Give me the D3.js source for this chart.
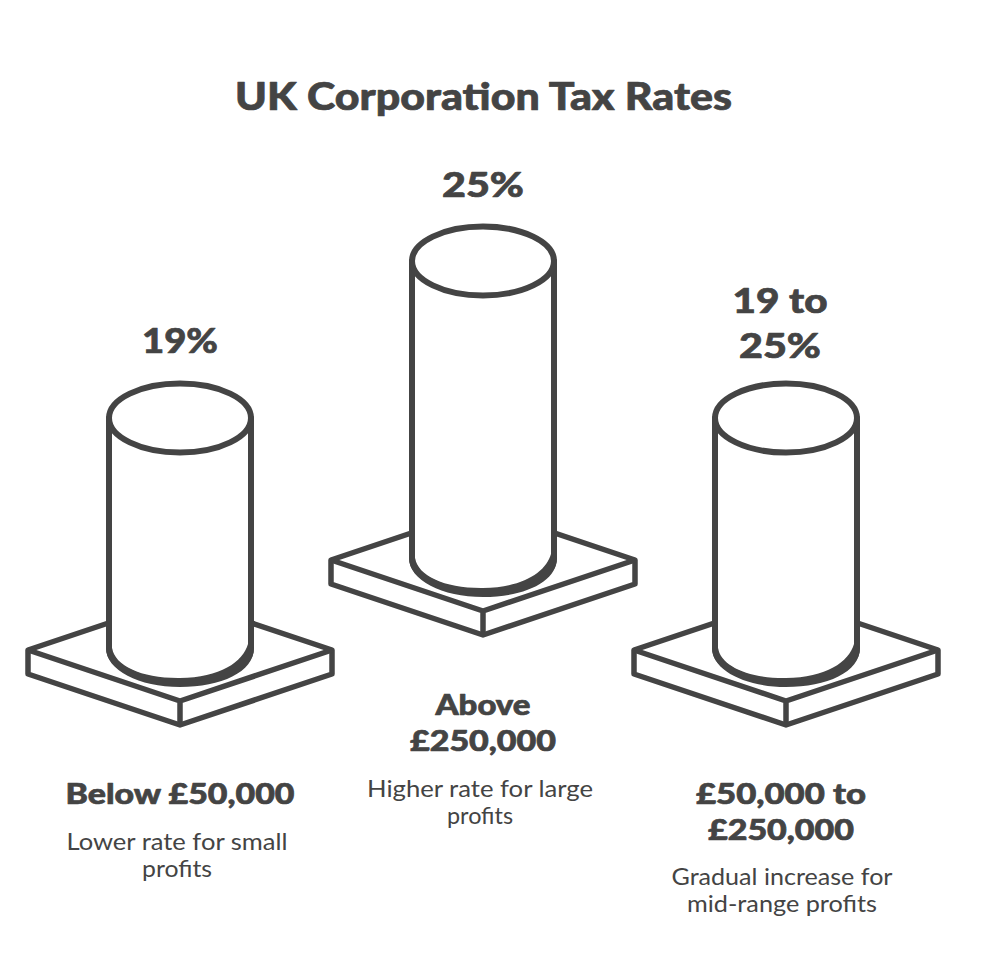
<!DOCTYPE html>
<html><head><meta charset="utf-8">
<script src="https://cdn.jsdelivr.net/npm/d3@7"></script>
<style>
html,body{margin:0;padding:0;background:#fff}
text{font-family:Lato,"Open Sans",sans-serif;fill:#444;text-anchor:middle}
.strong{font-weight:900;stroke:#444;stroke-width:.7px;stroke-linejoin:round}
.note{font-weight:400}
</style></head><body>
<svg id="c" width="1000" height="978"></svg>
<script>
const chartTitle = "UK Corporation Tax Rates";
const categories = ["Below £50,000", "Above £250,000", "£50,000 to £250,000"];
const rateValues = [19, 25, 19];
const rateLabels = [["19%"], ["25%"], ["19 to", "25%"]];
const bandLabels = [["Below £50,000"], ["Above", "£250,000"], ["£50,000 to", "£250,000"]];
const bandNotes = [["Lower rate for small", "profits"], ["Higher rate for large", "profits"], ["Gradual increase for", "mid-range profits"]];

const ink = "#444";
const svg = d3.select("#c");
const x = d3.scalePoint().domain(categories).range([180, 786]);
const height = d3.scaleLinear().domain([0, 25]).range([17.8, 297]);
const footY = d3.scaleOrdinal().domain(categories).range([648, 558, 648]);
const rx = 71, ry = 34.5;
const pw = 152, ph = 51, pd = 24;

function fit(sel, w){ if(w) sel.attr("textLength", w).attr("lengthAdjust", "spacingAndGlyphs"); return sel; }
function line(txt, cx, y, size, cls, w){
  return fit(svg.append("text").attr("x", cx).attr("y", y).attr("font-size", size).attr("class", cls).text(txt), w);
}

const g = svg.selectAll("g.col").data(categories).join("g").attr("class", "col")
  .attr("transform", d => `translate(${x(d)},${footY(d)})`);

// platform
g.append("path").attr("fill", "#fff").attr("stroke", ink).attr("stroke-width", 5.5).attr("stroke-linejoin", "round")
  .attr("d", `M${-pw},2 L0,${2-ph} L${pw},2 L${pw},${2+pd} L0,${2+ph+pd} L${-pw},${2+pd} Z`);
g.append("path").attr("fill", "none").attr("stroke", ink).attr("stroke-width", 5.5).attr("stroke-linejoin", "round")
  .attr("d", `M${-pw},2 L0,${2+ph} L${pw},2 M0,${2+ph} L0,${2+ph+pd}`);

// cylinder body
g.append("path").attr("fill", "#fff").attr("stroke", ink).attr("stroke-width", 6).attr("stroke-linejoin", "round")
  .attr("d", (d, i) => {
    const h = height(rateValues[i]);
    return `M${-rx},${-h} L${-rx},0 A${rx},${ry} 0 0 0 ${rx},0 L${rx},${-h} Z`;
  });
// thick crescent along the foot
g.append("path").attr("fill", ink)
  .attr("d", `M${-rx-3},0 C${-rx-3},22 -41,39 0,39 C41,39 ${rx+3},24 ${rx+3},0 L${rx-3},-4 C${rx-8},14 40,29.5 0,30 C-38,30.5 ${-rx+6},18 ${-rx+3},0 Z`);
// top ellipse
g.append("ellipse").attr("fill", "#fff").attr("stroke", ink).attr("stroke-width", 6)
  .attr("cx", 0).attr("cy", (d, i) => -height(rateValues[i])).attr("rx", rx).attr("ry", ry);

// title
line(chartTitle, 483.5, 110, 37, "strong", 497);

// rate labels
const rateSpec = [{cx:180, ys:[353], w:[76]}, {cx:483, ys:[197], w:[82]}, {cx:780, ys:[313,358], w:[95,82]}];
rateLabels.forEach((ls, i) => ls.forEach((t, j) => line(t, rateSpec[i].cx, rateSpec[i].ys[j], 35, "strong", rateSpec[i].w[j])));

// band labels
const bandSpec = [{cx:180, ys:[804], w:[229]}, {cx:483, ys:[715,751], w:[95,146]}, {cx:781, ys:[804,840], w:[170,146]}];
bandLabels.forEach((ls, i) => ls.forEach((t, j) => line(t, bandSpec[i].cx, bandSpec[i].ys[j], 29, "strong", bandSpec[i].w[j])));

// notes
const noteSpec = [{cx:177, ys:[850,877], w:[221,70]}, {cx:480, ys:[797,824], w:[226,66]}, {cx:782, ys:[885,912], w:[221,190]}];
bandNotes.forEach((ls, i) => ls.forEach((t, j) => line(t, noteSpec[i].cx, noteSpec[i].ys[j], 23, "note", noteSpec[i].w[j])));
</script></body></html>
